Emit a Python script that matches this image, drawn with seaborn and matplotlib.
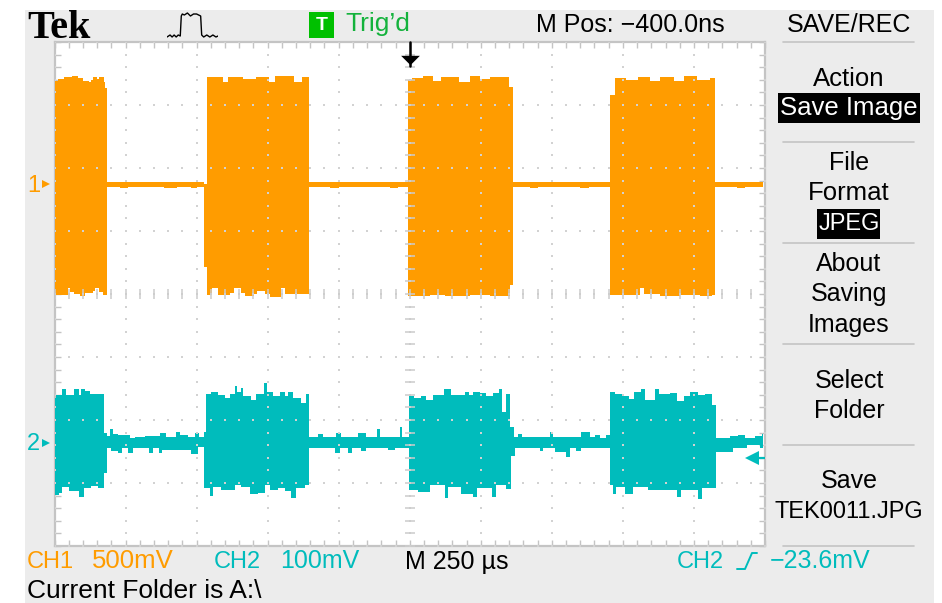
"""Redraw of a Tek oscilloscope screen capture (SAVE/REC menu)."""

import matplotlib
matplotlib.use("Agg")
import matplotlib.pyplot as plt
from matplotlib.lines import Line2D
from matplotlib.patches import Rectangle
import numpy as np
import pandas as pd
import seaborn as sns

# envelope of each trace, as step values: (start time in us, level in mV)
ch1_upper_t = [0, 11, 32, 60, 81, 102, 123, 130, 137, 151, 158, 173, 176, 183,
               525, 535, 592, 609, 665, 708, 753, 775, 842, 870, 894,
               1243, 1257, 1296, 1331, 1359, 1423, 1461, 1496, 1532, 1599, 1613,
               1954, 1972, 2011, 2053, 2095, 2130, 2180, 2215, 2260, 2306, 2324]
ch1_upper = [817, 833, 849, 857, 841, 817, 810, 825, 849, 833, 849, 810, 762, 16,
             0, 849, 810, 849, 833, 849, 810, 857, 810, 849, 16,
             825, 841, 857, 817, 849, 810, 857, 833, 849, 770, 16,
             706, 841, 825, 849, 817, 849, 817, 857, 825, 841, 16]
ch1_lower_t = [0, 46, 53, 67, 88, 109, 134, 144, 158, 169, 183, 229, 260, 387, 430, 480, 500,
               525, 535, 553, 574, 616, 630, 655, 672, 701, 711, 739, 757, 796, 810, 894,
               968, 1000, 1180, 1210,
               1243, 1320, 1373, 1461, 1532, 1602, 1613, 1672, 1700, 1849, 1880,
               1954, 2060, 2074, 2130, 2201, 2271, 2313, 2324, 2400, 2430]
ch1_lower = [-881, -825, -857, -873, -889, -865, -849, -825, -857, -881, -24, -32, -24, -32, -24, -32, -24,
             -659, -881, -825, -881, -865, -825, -865, -889, -873, -849, -873, -897, -825, -873, -24,
             -32, -24, -32, -24,
             -889, -881, -889, -881, -889, -802, -24, -32, -24, -32, -24,
             -881, -825, -873, -889, -881, -889, -881, -24, -32, -24]

ch2_upper_t = [0, 6, 27, 41, 70, 86, 95, 109, 126, 174,
               184, 194, 205, 223, 264, 282, 317, 370, 393, 426, 440, 470, 493, 508, 525,
               534, 552, 575, 599, 616, 634, 642, 657, 665, 692, 710, 736, 748, 769, 792, 810, 822, 839, 869, 884,
               896, 927, 945, 992, 1009, 1068, 1097, 1135, 1147, 1215, 1224,
               1246, 1265, 1288, 1308, 1332, 1370, 1396, 1443, 1457, 1473, 1496, 1520, 1543, 1564, 1576, 1588, 1604,
               1617, 1631, 1645, 1743, 1754, 1854, 1883, 1901, 1919, 1942,
               1955, 1971, 2001, 2021, 2040, 2063, 2079, 2112, 2126, 2165, 2189, 2216, 2236, 2263, 2288, 2314,
               2326, 2376, 2406, 2429, 2464, 2488]
ch2_upper = [71, 76, 86, 76, 86, 76, 86, 83, 78, 16,
             11, 22, 14, 13, 8, 10, 11, 16, 10, 17, 13, 10, 16, 10, 17,
             78, 81, 76, 71, 78, 90, 81, 87, 75, 68, 78, 95, 81, 75, 81, 75, 81, 71, 63, 78,
             10, 14, 10, 16, 10, 16, 10, 22, 10, 25, 10,
             75, 71, 75, 68, 76, 86, 76, 81, 76, 81, 79, 75, 79, 86, 49, 78, 25,
             10, 14, 10, 17, 10, 17, 10, 13, 8, 13,
             81, 78, 75, 70, 81, 86, 68, 86, 78, 79, 67, 75, 81, 76, 78, 60,
             8, 11, 13, 8, 11, 14]
ch2_lower_t = [0, 15, 27, 51, 86, 103, 129, 153, 174,
               184, 200, 223, 238, 258, 276, 334, 346, 367, 379, 481, 505,
               525, 546, 557, 587, 634, 657, 687, 716, 739, 757, 786, 810, 833, 849, 880,
               896, 986, 1004, 1033, 1048, 1080, 1097, 1174, 1197,
               1246, 1279, 1320, 1373, 1385, 1432, 1473, 1488, 1540, 1555, 1590, 1605,
               1619, 1707, 1719, 1760, 1801, 1815, 1836, 1854,
               1955, 1966, 1977, 2007, 2036, 2089, 2189, 2206, 2265, 2277,
               2326, 2388, 2435, 2482]
ch2_lower = [-83, -79, -70, -76, -86, -71, -68, -71, -48,
             -8, -13, -16, -8, -16, -8, -16, -8, -16, -11, -17, -6,
             -71, -84, -70, -75, -67, -70, -81, -79, -67, -75, -71, -76, -87, -71, -67,
             -8, -16, -8, -16, -8, -13, -8, -11, -8,
             -75, -78, -67, -87, -70, -81, -86, -71, -86, -67, -73, -21,
             -8, -13, -8, -14, -22, -8, -13, -8,
             -67, -81, -70, -81, -70, -75, -86, -75, -89, -71,
             -14, -8, -3, -8]

end_time = 2493  # last sample of the record, us
ch1_scale = 500  # mV/div
ch2_scale = 100  # mV/div
ch1_ground = 1.746  # div above centre
ch2_ground = -2.365
trigger_time = 1250  # us
trigger_level = -23.6  # mV

pulse_t = [0, 3, 5, 7, 9, 11, 13, 14, 15, 17, 20, 23, 26, 29, 31, 33, 34, 36, 39, 42, 45, 48, 50]
pulse_v = [1, 3, 1, 3, 1, 3, 2, 22, 24, 23, 25, 22, 24, 24, 23, 22, 3, 1, 3, 1, 3, 1, 2]

ORANGE = "#ff9c00"
TEAL = "#00bcbc"
GREEN = "#14b23c"
FRAME = "#c4c4c4"
PANEL = "#ececec"
W, H = 942, 603


def fx(px):
    return px / W


def fy(py):
    return 1 - py / H


def envelope(name, up_t, up, low_t, low, scale, ground):
    """Long table with both edges of one trace on a common time base."""
    times = np.array(sorted(set(up_t) | set(low_t) | {end_time}))
    upper = np.array(up)[np.searchsorted(up_t, times, side="right") - 1]
    lower = np.array(low)[np.searchsorted(low_t, times, side="right") - 1]
    frames = [pd.DataFrame({"time": times, "div": edge / scale + ground})
              for edge in (upper, lower)]
    table = pd.concat(frames, ignore_index=True)
    table["channel"] = name
    return table


sns.set_theme(style="white")
plt.rcParams["font.family"] = ["Liberation Sans", "DejaVu Sans"]

fig = plt.figure(figsize=(W / 100, H / 100), dpi=100, facecolor="white")
fig.add_artist(Rectangle((fx(25), 0), fx(909), fy(10), color=PANEL, lw=0, zorder=-5))

ax = fig.add_axes([fx(54.5), fy(546), fx(710.5), fy(42) - fy(546)], facecolor="white")

for table, color in (
    (envelope("CH1", ch1_upper_t, ch1_upper, ch1_lower_t, ch1_lower, ch1_scale, ch1_ground), ORANGE),
    (envelope("CH2", ch2_upper_t, ch2_upper, ch2_lower_t, ch2_lower, ch2_scale, ch2_ground), TEAL),
):
    sns.lineplot(data=table, x="time", y="div", ax=ax, color=color, linewidth=0,
                 estimator="mean", errorbar=lambda v: (v.min(), v.max()),
                 err_kws={"alpha": 1, "linewidth": 0, "step": "post", "zorder": 3, "clip_on": False})

# graticule
div_x = np.arange(0, 2501, 250)
div_y = np.arange(-4, 5)
sub_x = np.arange(0, 2501, 50)
sub_y = np.arange(-20, 21) / 5
dots = pd.concat([
    pd.DataFrame({"x": np.repeat(div_x, sub_y.size), "y": np.tile(sub_y, div_x.size)}),
    pd.DataFrame({"x": np.tile(sub_x, div_y.size), "y": np.repeat(div_y, sub_x.size)}),
])
sns.scatterplot(data=dots, x="x", y="y", ax=ax, marker="s", s=3.5, color="#d2d2d2",
                linewidth=0, zorder=5, legend=False)
ax.plot(sub_x, np.zeros_like(sub_x), ls="", marker="|", ms=6.5, mew=1.1, color="#cccccc", zorder=5)
ax.plot(np.full_like(sub_y, 1250), sub_y, ls="", marker="_", ms=6.5, mew=1.1, color="#cccccc", zorder=5)

ax.set_xlim(0, 2500)
ax.set_ylim(-4, 4)
ax.set_xlabel("")
ax.set_ylabel("")
ax.set_xticks(sub_x)
ax.set_yticks(sub_y)
ax.tick_params(which="major", direction="in", length=4.5, width=1, color=FRAME,
               top=True, bottom=True, left=True, right=True,
               labelleft=False, labelbottom=False)
for spine in ax.spines.values():
    spine.set_color(FRAME)
    spine.set_linewidth(1.6)
    spine.set_zorder(1.5)

# position markers
ax.plot([trigger_time, trigger_time], [4, 3.62], color="black", lw=1.8, clip_on=False, zorder=7)
ax.plot([trigger_time], [3.72], marker=[(-1, 0.5), (1, 0.5), (0, -0.5)], ms=13.5, color="black",
        mew=0, clip_on=False, zorder=7)
ch2_trig = trigger_level / ch2_scale + ch2_ground
ax.plot([2454, 2500], [ch2_trig, ch2_trig], color=TEAL, lw=1.6, zorder=7)
ax.plot([2454], [ch2_trig], marker="<", ms=10.5, color=TEAL, mew=0, zorder=7)
ax.plot([-30], [ch1_ground], marker=">", ms=5.5, color=ORANGE, mew=0, clip_on=False)
ax.plot([-30], [ch2_ground], marker=">", ms=5.5, color=TEAL, mew=0, clip_on=False)


def label(px, py, text, color="black", ha="left", size=18, **kw):
    return fig.text(fx(px), fy(py + 1.5), text, color=color, ha=ha, va="center", fontsize=size, **kw)


label(27, 27, "Tek", size=29, weight="bold", family="Liberation Serif")
fig.add_artist(Rectangle((fx(309), fy(38)), fx(25), fy(12) - fy(38), color="#00c000", lw=0))
label(321.5, 24, "T", color="white", ha="center", size=14, weight="bold")
label(345, 23, "Trig\u2019d", color=GREEN, size=19)
label(536, 23, "M Pos: \u2212400.0ns")
label(27, 184, "1", color=ORANGE, size=17)
label(27, 443, "2", color=TEAL, size=17)
label(27, 560, "CH1", color=ORANGE, size=17)
label(92, 560, "500mV", color=ORANGE, size=18.5)
label(214, 560, "CH2", color=TEAL, size=17)
label(280, 560, "100mV", color=TEAL, size=18)
label(405, 560, "M 250 \u00b5s")
label(677, 560, "CH2", color=TEAL, size=17)
label(770, 560, "\u221223.6mV", color=TEAL, size=18)
label(27, 590, "Current Folder is A:\\", size=19)
fig.add_artist(Line2D([fx(737), fx(745), fx(752), fx(757)], [fy(569), fy(569), fy(553), fy(553)],
                      color=TEAL, lw=1.4))

# menu
menu_x = 849
fig.add_artist(Rectangle((fx(778), fy(123)), fx(142), fy(93) - fy(123), color="black", lw=0))
fig.add_artist(Rectangle((fx(817), fy(239)), fx(63), fy(209) - fy(239), color="black", lw=0))
for py in (41.5, 142, 243, 344, 445, 546):
    fig.add_artist(Line2D([fx(783), fx(914)], [fy(py), fy(py)], color=FRAME, lw=1.2))
menu_rows = [
    (23, "SAVE/REC", "black", 18), (77, "Action", "black", 18.5), (107, "Save Image", "white", 18.5),
    (162, "File", "black", 18), (192, "Format", "black", 18.5), (223, "JPEG", "white", 17),
    (263, "About", "black", 18), (293, "Saving", "black", 18), (323, "Images", "black", 18),
    (379, "Select", "black", 18), (409, "Folder", "black", 18),
    (480, "Save", "black", 18), (510, "TEK0011.JPG", "black", 17),
]
for py, text, color, size in menu_rows:
    label(menu_x, py, text, color=color, ha="center", size=size)

# trigger type icon
icon = fig.add_axes([fx(167), fy(38), fx(51), fy(12) - fy(38)])
sns.lineplot(x=pulse_t, y=pulse_v, ax=icon, color="black", linewidth=1, errorbar=None, estimator=None)
icon.set_xlim(0, 50)
icon.set_ylim(0, 26)
icon.axis("off")

fig.savefig("out.png", dpi=100)
